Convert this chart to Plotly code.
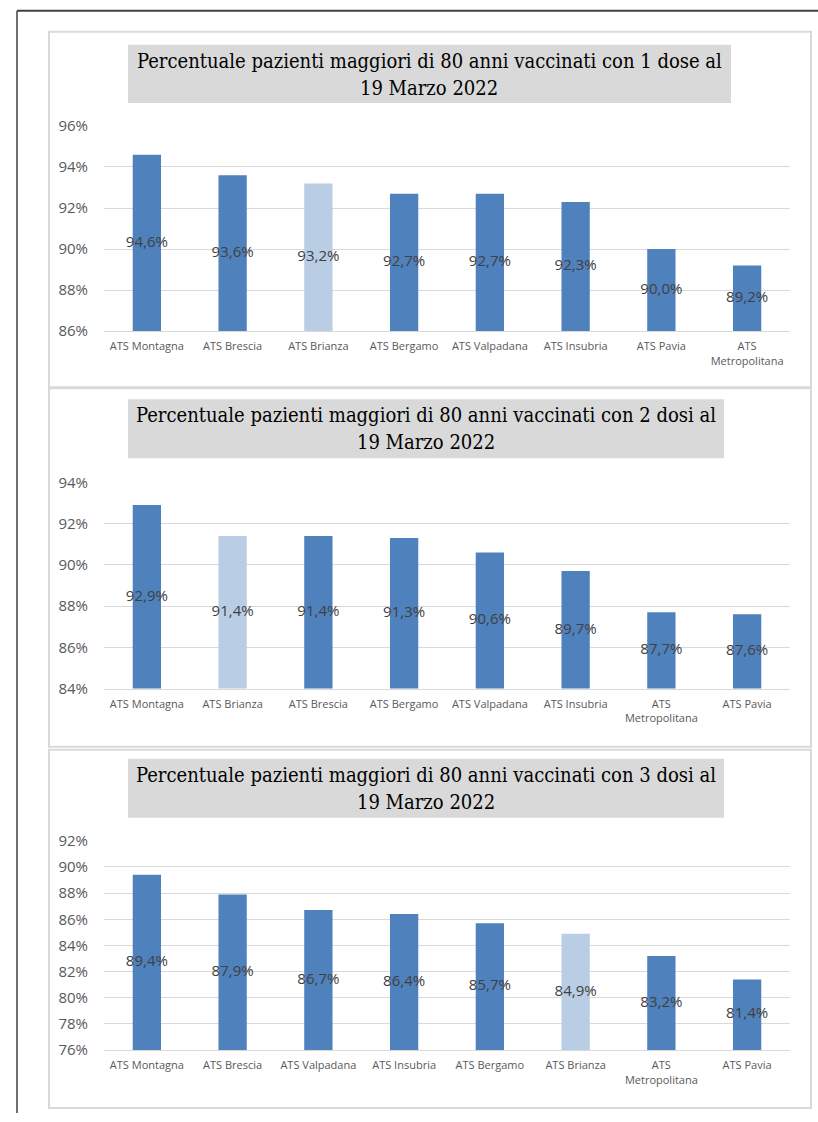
import plotly.graph_objects as go

W, H = 818, 1122

# ---------------- data ----------------
titles = [
    "Percentuale pazienti maggiori di 80 anni vaccinati con 1 dose al",
    "Percentuale pazienti maggiori di 80 anni vaccinati con 2 dosi al",
    "Percentuale pazienti maggiori di 80 anni vaccinati con 3 dosi al",
]
subtitle = "19 Marzo 2022"

cats1 = ["ATS Montagna", "ATS Brescia", "ATS Brianza", "ATS Bergamo",
         "ATS Valpadana", "ATS Insubria", "ATS Pavia", "ATS<br>Metropolitana"]
vals1 = [94.6, 93.6, 93.2, 92.7, 92.7, 92.3, 90.0, 89.2]

cats2 = ["ATS Montagna", "ATS Brianza", "ATS Brescia", "ATS Bergamo",
         "ATS Valpadana", "ATS Insubria", "ATS<br>Metropolitana", "ATS Pavia"]
vals2 = [92.9, 91.4, 91.4, 91.3, 90.6, 89.7, 87.7, 87.6]

cats3 = ["ATS Montagna", "ATS Brescia", "ATS Valpadana", "ATS Insubria",
         "ATS Bergamo", "ATS Brianza", "ATS<br>Metropolitana", "ATS Pavia"]
vals3 = [89.4, 87.9, 86.7, 86.4, 85.7, 84.9, 83.2, 81.4]

yranges = [(86, 96), (84, 94), (76, 92)]
highlight = "ATS Brianza"

# ---------------- style / layout ----------------
DARK = "#4F81BD"
LIGHT = "#B9CDE5"
GRID = "#D9D9D9"
TXT = "#595959"
LBL = "#404040"

# vertical correction measured from the rendered output
Y_SCALE, Y_OFF = 0.981, 11.2

def px_x(p):
    return p / W

def px_y(p):
    return 1 - ((p - Y_OFF) / Y_SCALE) / H

# pixel geometry of each panel (reference image pixels)
panels = [
    dict(box=(49, 32, 811, 387), tbox=(128, 45, 731, 103), l1=61, l2=88, top=126, bot=331),
    dict(box=(49, 388, 811, 746), tbox=(128, 399, 724, 458), l1=415, l2=442, top=482, bot=688),
    dict(box=(49, 749, 811, 1107), tbox=(128, 758, 724, 817), l1=774, l2=801, top=840, bot=1049),
]
X0, X1 = 104, 790

fig = go.Figure()
shapes = []
annotations = []
datasets = [(cats1, vals1), (cats2, vals2), (cats3, vals3)]

for i, ((cats, vals), p, (lo, hi)) in enumerate(zip(datasets, panels, yranges)):
    n = "" if i == 0 else str(i + 1)
    xa, ya = "x" + n, "y" + n
    colors = [LIGHT if c == highlight else DARK for c in cats]
    fig.add_trace(go.Bar(
        x=cats, y=vals, marker=dict(color=colors, line=dict(width=0)),
        width=0.33, xaxis=xa, yaxis=ya, showlegend=False, hoverinfo="x+y",
    ))
    # data labels centred in the visible part of each bar
    fig.add_trace(go.Scatter(
        x=cats, y=[(lo + v) / 2 for v in vals], mode="text",
        text=[f"{v:.1f}".replace(".", ",") + "%" for v in vals],
        textfont=dict(family="Open Sans", size=15, color=LBL),
        xaxis=xa, yaxis=ya, showlegend=False, hoverinfo="skip",
    ))
    fig.update_layout(**{
        ("xaxis" + n): dict(
            domain=[px_x(X0), px_x(X1)], anchor=ya,
            showgrid=False, showline=True, linecolor=GRID, linewidth=1,
            ticks="outside", ticklen=5, tickcolor="rgba(0,0,0,0)",
            tickfont=dict(family="Open Sans", size=11, color=TXT),
            tickangle=0, fixedrange=True,
        ),
        ("yaxis" + n): dict(
            domain=[px_y(p["bot"]), px_y(p["top"])], anchor=xa,
            range=[lo, hi], dtick=2, ticksuffix="%",
            showgrid=True, gridcolor=GRID, gridwidth=1, zeroline=False,
            showline=False, ticks="outside", ticklen=12, tickcolor="rgba(0,0,0,0)",
            tickfont=dict(family="Open Sans", size=15, color=TXT), fixedrange=True,
        ),
    })
    bx0, by0, bx1, by1 = p["box"]
    shapes.append(dict(type="rect", xref="paper", yref="paper",
                       x0=px_x(bx0), x1=px_x(bx1), y0=px_y(by1), y1=px_y(by0),
                       line=dict(color=GRID, width=2), fillcolor="rgba(0,0,0,0)", layer="below"))
    tx0, ty0, tx1, ty1 = p["tbox"]
    shapes.append(dict(type="rect", xref="paper", yref="paper",
                       x0=px_x(tx0), x1=px_x(tx1), y0=px_y(ty1), y1=px_y(ty0),
                       line=dict(width=0), fillcolor="#D9D9D9", layer="below"))
    cx = px_x((tx0 + tx1) / 2)
    for txt, ly in ((titles[i], p["l1"]), (subtitle, p["l2"])):
        annotations.append(dict(
            text=txt, xref="paper", yref="paper", x=cx, y=px_y(ly),
            xanchor="center", yanchor="middle", showarrow=False,
            font=dict(family="DejaVu Serif Condensed, DejaVu Serif", size=20, color="#000000"),
        ))

# outer page frame (top and left edges)
shapes.append(dict(type="line", xref="paper", yref="paper",
                   x0=px_x(17), x1=1, y0=px_y(11), y1=px_y(11),
                   line=dict(color="#404040", width=2)))
shapes.append(dict(type="line", xref="paper", yref="paper",
                   x0=px_x(17), x1=px_x(17), y0=0, y1=px_y(11),
                   line=dict(color="#404040", width=1.5)))

fig.update_layout(
    width=W, height=H, margin=dict(l=0, r=0, t=0, b=0),
    paper_bgcolor="white", plot_bgcolor="white",
    shapes=shapes, annotations=annotations, bargap=0.67,
)

fig.write_html(
    "out.html",
    config={"displayModeBar": False},
    post_script=(
        "document.body.style.margin='0';document.body.style.padding='0';"
        "document.documentElement.style.overflow='hidden';"
        "var g=document.getElementById('{plot_id}');"
        "g.style.position='fixed';g.style.top='0px';g.style.left='0px';"
    ),
)
